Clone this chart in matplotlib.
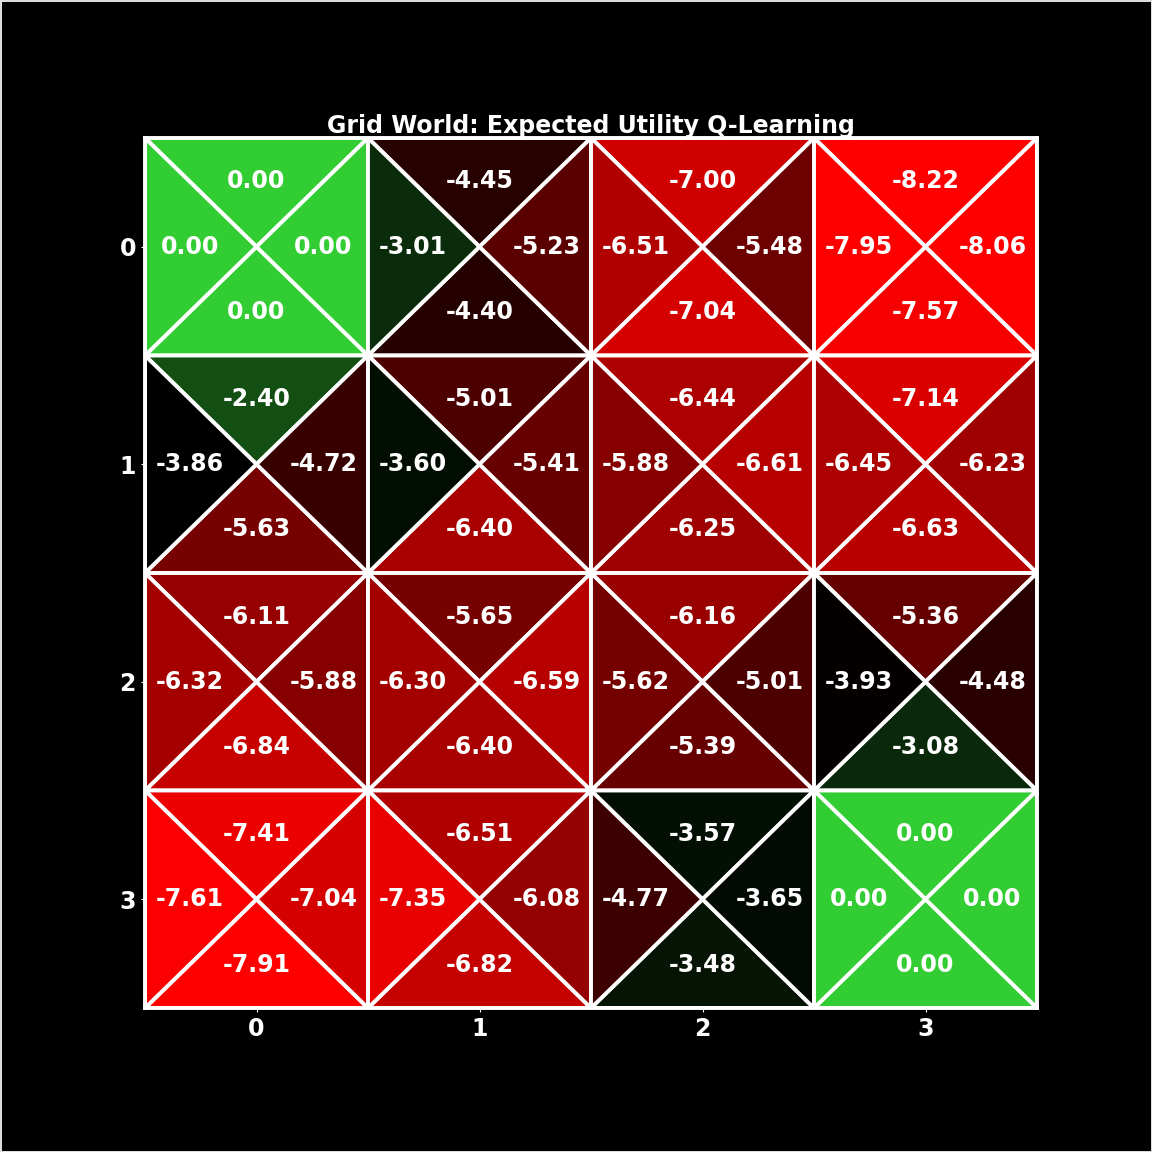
import numpy as np
import matplotlib
matplotlib.use('Agg')
import matplotlib.pyplot as plt
from matplotlib.collections import PolyCollection
from matplotlib.colors import LinearSegmentedColormap, Normalize

#%% data: Q-values per cell (rows top->bottom, cols left->right)
q_up = [[0.00, -4.45, -7.00, -8.22],
        [-2.40, -5.01, -6.44, -7.14],
        [-6.11, -5.65, -6.16, -5.36],
        [-7.41, -6.51, -3.57, 0.00]]
q_down = [[0.00, -4.40, -7.04, -7.57],
          [-5.63, -6.40, -6.25, -6.63],
          [-6.84, -6.40, -5.39, -3.08],
          [-7.91, -6.82, -3.48, 0.00]]
q_left = [[0.00, -3.01, -6.51, -7.95],
          [-3.86, -3.60, -5.88, -6.45],
          [-6.32, -6.30, -5.62, -3.93],
          [-7.61, -7.35, -4.77, 0.00]]
q_right = [[0.00, -5.23, -5.48, -8.06],
           [-4.72, -5.41, -6.61, -6.23],
           [-5.88, -6.59, -5.01, -4.48],
           [-7.04, -6.08, -3.65, 0.00]]
ticks = [0, 1, 2, 3]
title = 'Grid World: Expected Utility Q-Learning'

#%% build triangles
q_up, q_down = np.array(q_up), np.array(q_down)
q_left, q_right = np.array(q_left), np.array(q_right)
nrow, ncol = q_up.shape

tris, vals, txt = [], [], []
for r in range(nrow):
    for c in range(ncol):
        x0, x1, y0, y1 = c - 0.5, c + 0.5, r - 0.5, r + 0.5
        ctr = (c, r)
        # y axis is inverted: y0 is the top edge
        tris.append([(x0, y0), (x1, y0), ctr]); vals.append(q_up[r, c])
        txt.append((c, r - 0.3, q_up[r, c]))
        tris.append([(x0, y1), (x1, y1), ctr]); vals.append(q_down[r, c])
        txt.append((c, r + 0.3, q_down[r, c]))
        tris.append([(x0, y0), (x0, y1), ctr]); vals.append(q_left[r, c])
        txt.append((c - 0.3, r, q_left[r, c]))
        tris.append([(x1, y0), (x1, y1), ctr]); vals.append(q_right[r, c])
        txt.append((c + 0.3, r, q_right[r, c]))

#%% plot
cmap = LinearSegmentedColormap.from_list('rbg', ['red', 'black', 'limegreen'])
norm = Normalize(vmin=-7.7, vmax=0.0)
fs = 17

fig = plt.figure(figsize=(11.52, 11.52), dpi=100, facecolor='black')
fig.patch.set_edgecolor('#dddddd')
fig.patch.set_linewidth(2)
ax = fig.add_axes([145/1152, 1 - 1008/1152, 892/1152, 870/1152])
ax.set_facecolor('black')

pc = PolyCollection(tris, array=np.array(vals), cmap=cmap, norm=norm,
                    edgecolors='white', linewidths=2.8)
ax.add_collection(pc)

for x, y, v in txt:
    ax.text(x, y, f'{v:.2f}', ha='center', va='center', color='white',
            fontsize=fs, fontweight='bold')

ax.set_xlim(-0.5, ncol - 0.5)
ax.set_ylim(nrow - 0.5, -0.5)
ax.set_xticks(ticks)
ax.set_yticks(ticks)
ax.set_xticklabels([str(t) for t in ticks], fontsize=fs, fontweight='bold', color='white')
ax.set_yticklabels([str(t) for t in ticks], fontsize=fs, fontweight='bold', color='white')
ax.tick_params(colors='white', length=3)
for s in ax.spines.values():
    s.set_color('white')
    s.set_linewidth(2.8)
ax.set_title(title, color='white', fontsize=fs, fontweight='bold', pad=3)

fig.savefig('out.png', dpi=100, facecolor=fig.get_facecolor(), edgecolor=fig.patch.get_edgecolor())
